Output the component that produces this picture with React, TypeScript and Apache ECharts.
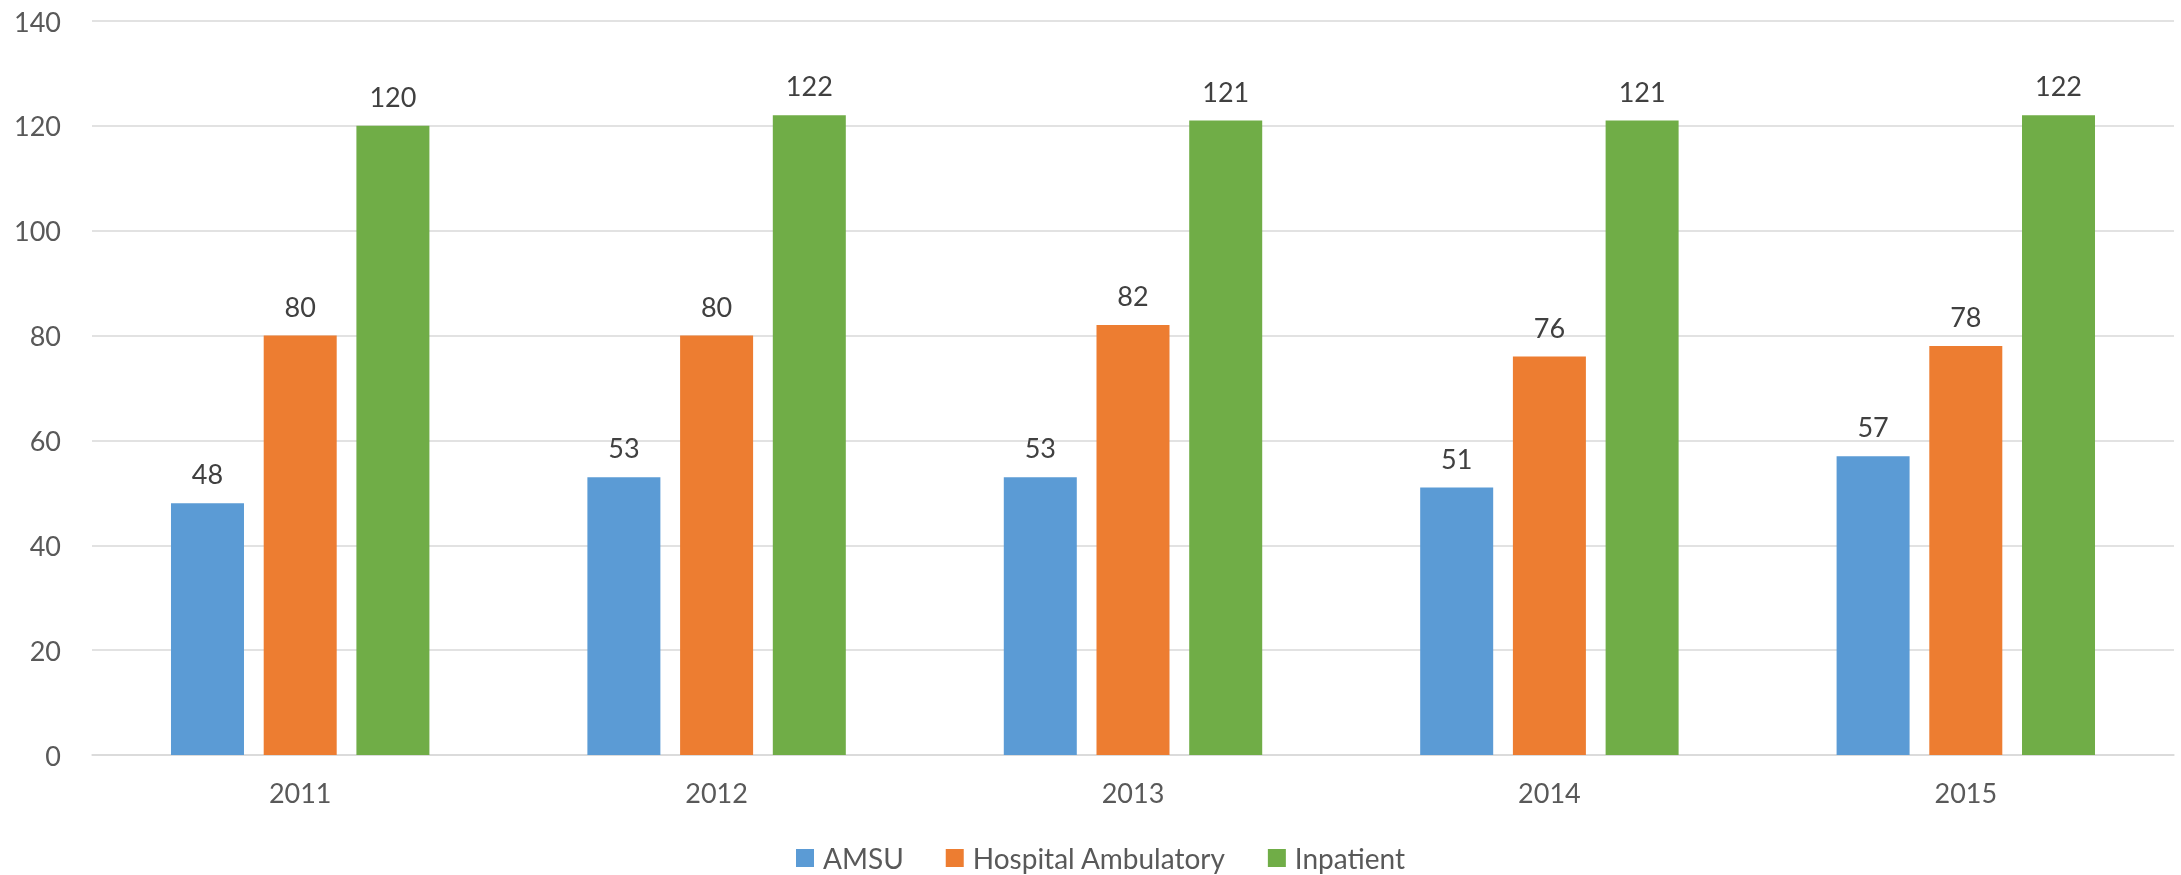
import React, { useEffect, useRef } from "react";
import * as echarts from "echarts";

const categories = ["2011", "2012", "2013", "2014", "2015"];
const amsu = [48, 53, 53, 51, 57];
const hospitalAmbulatory = [80, 80, 82, 76, 78];
const inpatient = [120, 122, 121, 121, 122];
const seriesNames = ["AMSU", "Hospital Ambulatory", "Inpatient"];
const colors = ["#5B9BD5", "#ED7D31", "#70AD47"];

const FONT = "Lato";

export default function App() {
  const ref = useRef<HTMLDivElement>(null);
  useEffect(() => {
    if (!ref.current) return;
    const chart = echarts.init(ref.current, undefined, { renderer: "svg" });
    const values = [amsu, hospitalAmbulatory, inpatient];
    chart.setOption({
      animation: false,
      color: colors,
      grid: { left: 92, right: 7, top: 21, bottom: 120, containLabel: false },
      legend: {
        data: seriesNames,
        top: 844,
        left: 796,
        padding: 0,
        itemWidth: 18,
        itemHeight: 18,
        itemGap: 42,
        icon: "rect",
        textStyle: { fontFamily: FONT, fontSize: 28, lineHeight: 28, color: "#595959", padding: [0, 0, 0, 4] },
      },
      xAxis: {
        type: "category",
        data: categories,
        axisTick: { show: false },
        axisLine: { lineStyle: { color: "#d9d9d9", width: 1.5 } },
        axisLabel: { fontFamily: FONT, fontSize: 27, color: "#595959", margin: 24 },
      },
      yAxis: {
        type: "value",
        min: 0,
        max: 140,
        interval: 20,
        axisLine: { show: false },
        axisTick: { show: false },
        splitLine: { lineStyle: { color: "#d9d9d9", width: 1.5 } },
        axisLabel: { fontFamily: FONT, fontSize: 27, color: "#595959", margin: 31 },
      },
      series: seriesNames.map((name, i) => ({
        name,
        type: "bar",
        data: values[i],
        barWidth: 73,
        barGap: "27%",
        label: {
          show: true,
          position: "top",
          distance: 16,
          fontFamily: FONT,
          fontSize: 27,
          color: "#404040",
        },
      })),
    });
    return () => chart.dispose();
  }, []);
  return (
    <div
      ref={ref}
      style={{ position: "fixed", left: 0, top: 0, width: 2181, height: 875 }}
    />
  );
}
